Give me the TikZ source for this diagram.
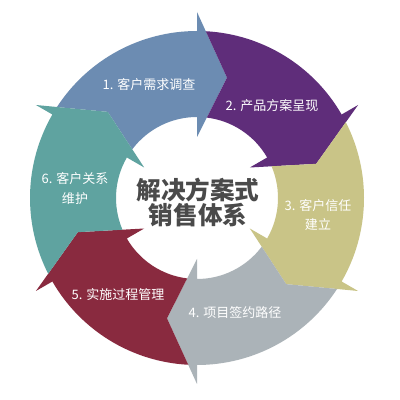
\documentclass[tikz,border=0pt]{standalone}
\usepackage{fontspec}
\newfontfamily\cjk{Noto Sans CJK SC}
\definecolor{stepblue}{HTML}{6C8CB2}
\definecolor{steppurple}{HTML}{5F2D7A}
\definecolor{stepgold}{HTML}{C9C487}
\definecolor{stepgray}{HTML}{ABB3B8}
\definecolor{stepred}{HTML}{892A3F}
\definecolor{stepteal}{HTML}{5FA3A0}
\definecolor{hubtext}{HTML}{4A4A4A}

\begin{document}
\begin{tikzpicture}[x=0.025cm, y=0.025cm,
		steplabel/.style={text=white, font=\cjk\fontsize{9.25}{13.9}\selectfont, align=center, inner sep=0pt},
		hublabel/.style={text=hubtext, font=\cjk\bfseries\fontsize{17.5}{17.8}\selectfont, align=center, inner sep=0pt}]
				\useasboundingbox (0,0) rectangle (400,400);
				\fill[white] (0,0) rectangle (400,400);
				\begin{scope}[shift={(197,202)}]
				\fill[stepblue] (146.99:167) arc[start angle=146.99, end angle=90, radius=167] -- (90:186) -- (76:124) -- (90:61) -- (90:81) arc[start angle=90, end angle=143.04, radius=81] -- (136:124) -- cycle;
				\fill[steppurple] (86.99:167) arc[start angle=86.99, end angle=30, radius=167] -- (30:186) -- (16:124) -- (30:61) -- (30:81) arc[start angle=30, end angle=83.04, radius=81] -- (76:124) -- cycle;
				\fill[stepgold] (26.99:167) arc[start angle=26.99, end angle=-30, radius=167] -- (-30:186) -- (-44:124) -- (-30:61) -- (-30:81) arc[start angle=-30, end angle=23.04, radius=81] -- (16:124) -- cycle;
				\fill[stepgray] (-33.01:167) arc[start angle=-33.01, end angle=-90, radius=167] -- (-90:186) -- (-104:124) -- (-90:61) -- (-90:81) arc[start angle=-90, end angle=-36.96, radius=81] -- (-44:124) -- cycle;
				\fill[stepred] (-93.01:167) arc[start angle=-93.01, end angle=-150, radius=167] -- (-150:186) -- (-164:124) -- (-150:61) -- (-150:81) arc[start angle=-150, end angle=-96.96, radius=81] -- (-104:124) -- cycle;
				\fill[stepteal] (206.99:167) arc[start angle=206.99, end angle=150, radius=167] -- (150:186) -- (136:124) -- (150:61) -- (150:81) arc[start angle=150, end angle=203.04, radius=81] -- (196:124) -- cycle;
				\end{scope}
				\node[hublabel] (hub) at (198,197.5) {解决方案式\\销售体系};
				\node[steplabel] (S1) at (149,315) {1. 客户需求调查};
				\node[steplabel] (S2) at (272,294) {2. 产品方案呈现};
				\node[steplabel] (S3) at (318,185) {3. 客户信任\\建立};
				\node[steplabel] (S4) at (235,87) {4. 项目签约路径};
				\node[steplabel] (S5) at (118,105) {5. 实施过程管理};
				\node[steplabel] (S6) at (75,211.5) {6. 客户关系\\维护};
			\end{tikzpicture}
\end{document}
